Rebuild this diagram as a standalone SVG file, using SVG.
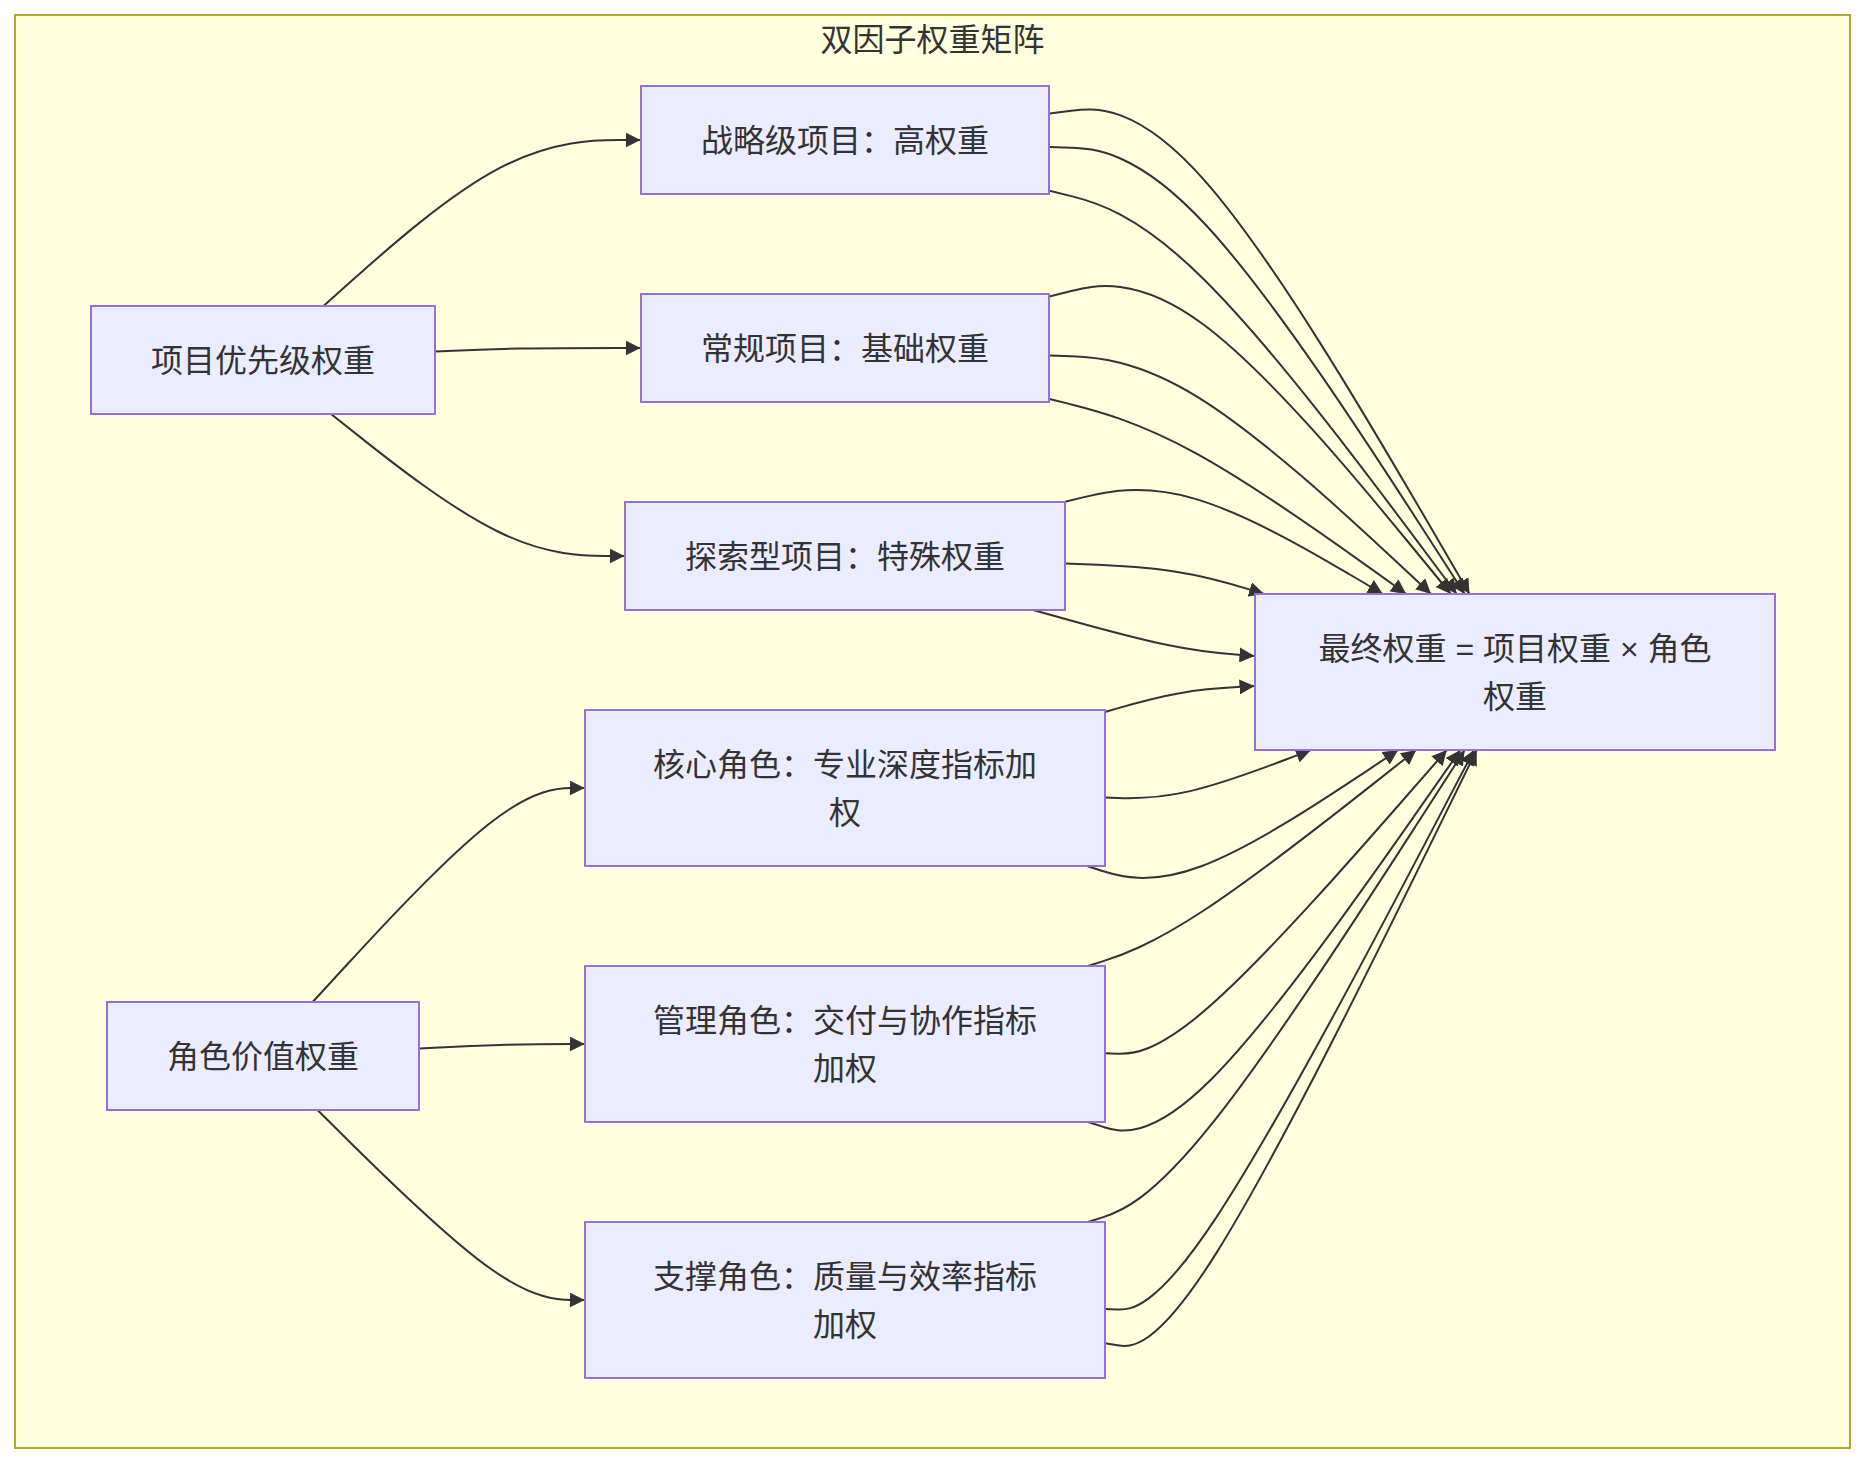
<svg xmlns="http://www.w3.org/2000/svg" width="1866" height="1464" viewBox="0 0 1866 1464">
<style>
.cluster rect{fill:#ffffde;stroke:#aaaa33;stroke-width:2}
.node rect{fill:#ececff;stroke:#9370db;stroke-width:2}
text{font-family:"Liberation Sans","Noto Sans CJK SC",sans-serif;font-size:32px;fill:#333333;text-anchor:middle}
.edge{fill:none;stroke:#333333;stroke-width:2;marker-end:url(#arrow)}
</style>
<defs>
<marker id="arrow" viewBox="0 0 10 10" refX="10" refY="5" markerUnits="userSpaceOnUse" markerWidth="15" markerHeight="15" orient="auto">
<path d="M0,0 L10,5 L0,10 z" fill="#333333"/>
</marker>
</defs>
<rect x="0" y="0" width="1866" height="1464" fill="#ffffff"/>
<g id="cluster" class="cluster">
<rect x="15" y="15" width="1835" height="1433"/>
<text x="932.5" y="51">双因子权重矩阵</text>
</g>
<g id="edges">
<path class="edge" d="M323.5,306 L354.5,278.3 C385.5,250.7 447.5,195.3 500.3,167.7 C553.2,140 596.8,140 618.7,140 L640.5,140"/>
<path class="edge" d="M435,351.6 L447.4,351 C459.8,350.4 484.7,349.2 518.9,348.6 C553.2,348 596.8,348 618.7,348 L640.5,348"/>
<path class="edge" d="M331,414 L360.8,437.6 C390.5,461.2 450,508.3 498.9,532 C547.8,556 586,556 605.2,556 L624.5,556"/>
<path class="edge" d="M312.7,1002 L345.5,966.3 C378.3,930.7 443.9,859.3 489.2,823.7 C534.6,788 559.6,788 572.2,788 L584.7,788"/>
<path class="edge" d="M419.4,1048.4 L434.4,1047.7 C449.4,1046.9 479.5,1045.5 507,1044.7 C534.6,1044 559.6,1044 572.2,1044 L584.7,1044"/>
<path class="edge" d="M317.5,1110 L349.5,1141.7 C381.5,1173.3 445.5,1236.7 490,1268.3 C534.6,1300 559.6,1300 572.2,1300 L584.7,1300"/>
<path class="edge" d="M1049.5,113.5 L1071.2,110.7 C1092.8,107.9 1136.2,102.2 1206.2,182.3 C1276.2,262.4 1372.8,428.2 1421.2,511.1 L1469.5,594"/>
<path class="edge" d="M1049.5,147 L1071.2,147.75 C1092.8,148.5 1136.2,150 1205.4,224.5 C1274.6,299 1369.6,446.5 1417.2,520.25 L1464.7,594"/>
<path class="edge" d="M1049.5,190.7 L1071.2,196.1 C1092.8,201.5 1136.2,212.2 1204,279.45 C1271.9,346.7 1364.3,470.3 1410.5,532.2 L1456.7,594"/>
<path class="edge" d="M1049.5,296.5 L1071.2,291.05 C1092.8,285.6 1136.2,274.7 1203.1,324.3 C1270,373.9 1360.4,483.9 1405.7,539 L1450.9,594"/>
<path class="edge" d="M1049.5,355.4 L1071.2,356.2 C1092.8,357 1136.2,358.5 1199.8,398.3 C1263.4,438.1 1347.2,516 1389.2,555 L1431.1,594"/>
<path class="edge" d="M1049.5,399 L1071.2,404.4 C1092.8,409.8 1136.2,420.6 1195.6,453.1 C1255.1,485.6 1330.6,539.8 1368.4,566.9 L1406.2,594"/>
<path class="edge" d="M1065,501.8 L1084.1,497.15 C1103.2,492.5 1141.3,483.2 1194.3,498.6 C1247.3,513.9 1315.1,554 1349,574 L1382.9,594"/>
<path class="edge" d="M1065,563.5 L1084.1,564.2 C1103.2,564.9 1141.3,566.3 1174.5,571.4 C1207.7,576.5 1235.9,585.2 1250,589.6 L1264.1,594"/>
<path class="edge" d="M1033,610 L1057.4,616.8 C1081.8,623.6 1130.7,637.4 1167.6,645.1 C1204.5,652.8 1229.5,654.3 1242,655.1 L1254.5,655.9"/>
<path class="edge" d="M1105,712 L1117.4,708.4 C1129.8,704.7 1154.7,697.5 1179.6,693.15 C1204.5,688.8 1229.5,687.5 1242,686.8 L1254.5,686.1"/>
<path class="edge" d="M1105,797.5 L1117.4,797.95 C1129.8,798.4 1154.7,799.3 1189,791.4 C1223.3,783.5 1267.1,766.7 1289,758.4 L1310.9,750"/>
<path class="edge" d="M1087,866 L1102.4,871 C1117.8,875.9 1148.7,885.9 1200.5,866.5 C1252.4,847.2 1325.2,798.6 1361.7,774.3 L1398.1,750"/>
<path class="edge" d="M1088,966 L1103.25,961.1 C1118.5,956.3 1149,946.5 1203.7,910.5 C1258.4,874.5 1337.3,812.3 1376.75,781.1 L1416.2,750"/>
<path class="edge" d="M1105,1053.3 L1117.4,1053.75 C1129.8,1054.2 1154.7,1055.1 1211.6,1004.55 C1268.6,954 1357.7,852 1402.25,801 L1446.8,750"/>
<path class="edge" d="M1088,1122 L1103.25,1126.9 C1118.5,1131.7 1149,1141.5 1211.1,1079.5 C1273.1,1017.5 1366.8,883.7 1413.6,816.9 L1460.4,750"/>
<path class="edge" d="M1088,1222 L1103.25,1217.1 C1118.5,1212.3 1149,1202.5 1211.8,1123.9 C1274.6,1045.2 1369.6,897.6 1417.2,823.8 L1464.7,750"/>
<path class="edge" d="M1105,1309 L1117.4,1309.4 C1129.8,1309.9 1154.7,1310.7 1216.2,1217.6 C1277.7,1124.4 1375.9,937.2 1425,843.6 L1474.1,750"/>
<path class="edge" d="M1105,1343.2 L1117.4,1345.3 C1129.8,1347.3 1154.7,1351.5 1216.6,1252.6 C1278.6,1153.7 1377.6,951.9 1427.2,850.9 L1476.7,750"/>
</g>
<g id="nodes">
<g id="project-priority" class="node"><rect x="91" y="306" width="344" height="108"/><text x="263" y="371.5">项目优先级权重</text></g>
<g id="role-value" class="node"><rect x="107" y="1002" width="312" height="108"/><text x="263" y="1067.5">角色价值权重</text></g>
<g id="strategic" class="node"><rect x="641" y="86" width="408" height="108"/><text x="845" y="151.5">战略级项目：高权重</text></g>
<g id="regular" class="node"><rect x="641" y="294" width="408" height="108"/><text x="845" y="359.5">常规项目：基础权重</text></g>
<g id="exploratory" class="node"><rect x="625" y="502" width="440" height="108"/><text x="845" y="567.5">探索型项目：特殊权重</text></g>
<g id="core-role" class="node"><rect x="585" y="710" width="520" height="156"/><text x="845" y="775.5">核心角色：专业深度指标加</text><text x="845" y="823.5">权</text></g>
<g id="manage-role" class="node"><rect x="585" y="966" width="520" height="156"/><text x="845" y="1031.5">管理角色：交付与协作指标</text><text x="845" y="1079.5">加权</text></g>
<g id="support-role" class="node"><rect x="585" y="1222" width="520" height="156"/><text x="845" y="1287.5">支撑角色：质量与效率指标</text><text x="845" y="1335.5">加权</text></g>
<g id="final-weight" class="node"><rect x="1255" y="594" width="520" height="156"/><text x="1515" y="659.5">最终权重 = 项目权重 × 角色</text><text x="1515" y="707.5">权重</text></g>
</g>
</svg>
